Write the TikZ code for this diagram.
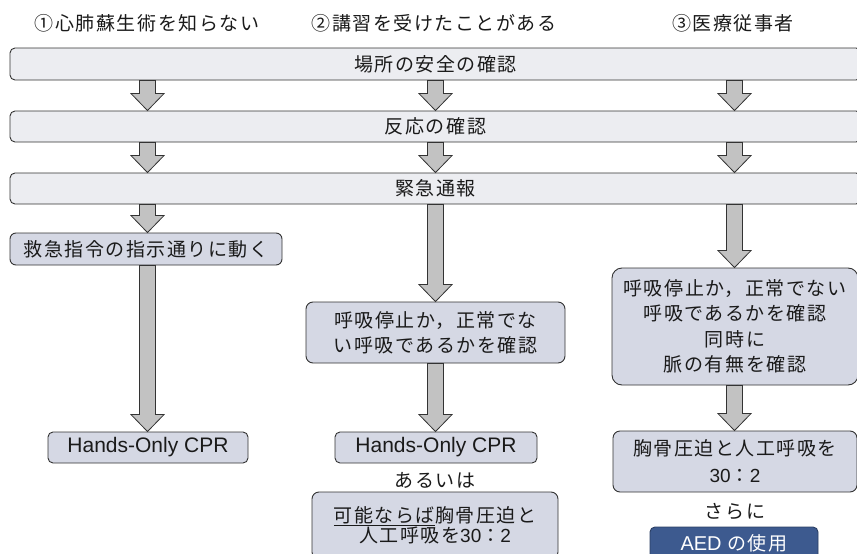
\documentclass[tikz,border=0pt]{standalone}
\usepackage{fontspec}
\setmainfont{Noto Sans CJK JP}[LetterSpace=8]
\newfontfamily\latin{Liberation Sans}
\usetikzlibrary{calc}
\definecolor{barfill}{HTML}{ECEDF1}
\definecolor{boxfill}{HTML}{D5D8E4}
\definecolor{aedfill}{HTML}{3D5A8F}
\definecolor{arrfill}{HTML}{C2C2C2}
\definecolor{linec}{HTML}{333333}
\definecolor{txt}{HTML}{1A1A1A}
\newcommand{\blockarrow}[3]{%
  \draw[barrowstyle] let \p1=(#2.south -| #1), \p2=(#3.north -| #1) in
    (\x1-8pt,\y1) -- (\x1-8pt,\y2+17pt) -- (\x1-16.5pt,\y2+17pt) -- (\x1,\y2)
    -- (\x1+16.5pt,\y2+17pt) -- (\x1+8pt,\y2+17pt) -- (\x1+8pt,\y1) -- cycle;}
\begin{document}
\begin{tikzpicture}[x=1pt,y=-1pt, font=\fontsize{19}{25}\selectfont, text=txt,
  bar/.style={draw=linec, line width=0.9pt, fill=barfill, rounded corners=5pt,
    minimum width=851pt, inner sep=0pt},
  box/.style={draw=linec, line width=0.9pt, fill=boxfill, rounded corners=7pt,
    inner sep=0pt, align=center},
  plain/.style={inner sep=0pt},
  barrowstyle/.style={draw=linec, line width=0.8pt, fill=arrfill, line join=miter}]
\useasboundingbox (0,0) rectangle (857,554);
\clip (0,0) rectangle (857,554);
\fill[white] (0,0) rectangle (857,554);

\coordinate (colA) at (147.5,0);
\coordinate (colB) at (435.5,0);
\coordinate (colC) at (734.5,0);

% headers
\node[plain] (h1) at (147,23) {①心肺蘇生術を知らない};
\node[plain] (h2) at (434,23) {②講習を受けたことがある};
\node[plain] (h3) at (733,23) {③医療従事者};

% common bars
\node[bar, minimum height=32pt] (bar1) at (435.5,64) {場所の安全の確認};
\node[bar, minimum height=31pt] (bar2) at (435.5,126.5) {反応の確認};
\node[bar, minimum height=31pt] (bar3) at (435.5,188.5) {緊急通報};

% column A
\node[box, minimum width=272pt, minimum height=32pt, rounded corners=6pt] (a1) at (146,249) {救急指令の指示通りに動く};
\node[box, minimum width=200pt, minimum height=31pt, rounded corners=5pt] (a2) at (148,447.5) {\latin\fontsize{21}{24}\selectfont Hands-Only CPR};

% column B
\node[box, minimum width=259pt, minimum height=61pt] (b1) at (435.5,332.5) {呼吸停止か，正常でな\\い呼吸であるかを確認};
\node[box, minimum width=202pt, minimum height=31pt, rounded corners=5pt] (b2) at (436,447.5) {\latin\fontsize{21}{24}\selectfont Hands-Only CPR};
\node[plain] (or) at (435,480) {あるいは};
\node[box, minimum width=246pt, minimum height=67pt, font=\fontsize{19}{20.5}\selectfont] (b3) at (435,525.5) {\underline{可能ならば}胸骨圧迫と\\人工呼吸を{\latin 30}：{\latin 2}};

% column C
\node[box, minimum width=246pt, minimum height=117pt, rounded corners=10pt, font=\fontsize{19}{25.5}\selectfont] (c1) at (735,326.5) {呼吸停止か，正常でない\\呼吸であるかを確認\\同時に\\脈の有無を確認};
\node[box, minimum width=244pt, minimum height=61pt, font=\fontsize{19}{27}\selectfont] (c2) at (735,461.5) {胸骨圧迫と人工呼吸を\\{\latin 30}：{\latin 2}};
\node[plain] (more) at (735,512) {さらに};
\node[box, fill=aedfill, draw=aedfill!70!black, text=white, minimum width=168pt, minimum height=32pt, rounded corners=5pt] (c3) at (734,543) {{\latin\fontsize{20}{22}\selectfont AED} の使用};

% arrows
\blockarrow{colA}{bar1}{bar2}
\blockarrow{colB}{bar1}{bar2}
\blockarrow{colC}{bar1}{bar2}
\blockarrow{colA}{bar2}{bar3}
\blockarrow{colB}{bar2}{bar3}
\blockarrow{colC}{bar2}{bar3}
\blockarrow{colA}{bar3}{a1}
\blockarrow{colA}{a1}{a2}
\blockarrow{colB}{bar3}{b1}
\blockarrow{colB}{b1}{b2}
\blockarrow{colC}{bar3}{c1}
\blockarrow{colC}{c1}{c2}
\end{tikzpicture}
\end{document}
